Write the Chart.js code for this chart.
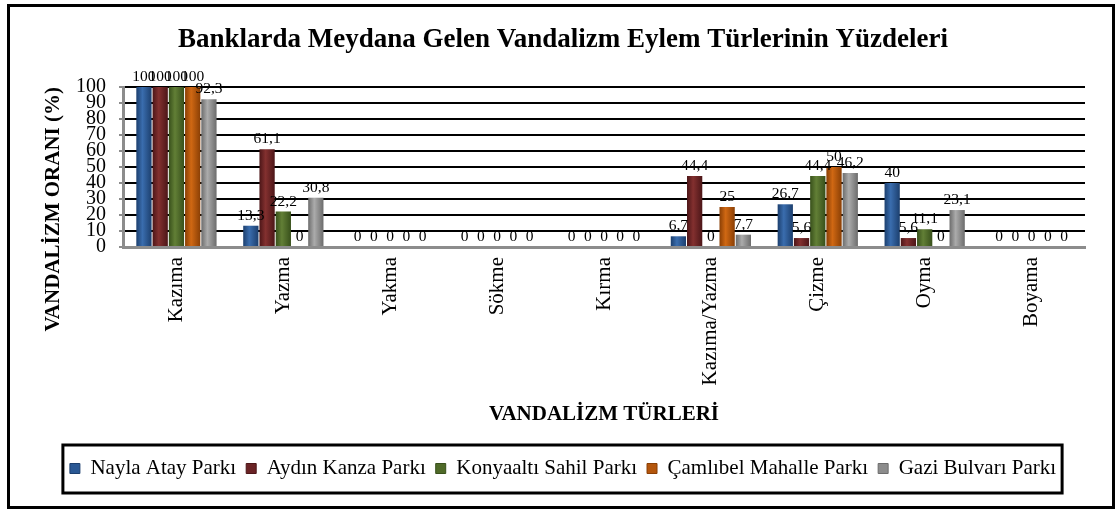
<!DOCTYPE html>
<html>
<head>
<meta charset="utf-8">
<script src="https://cdn.jsdelivr.net/npm/chart.js@4.4.1/dist/chart.umd.min.js"></script>
<style>
  html, body { margin: 0; padding: 0; background: #fff; }
  #wrap { position: relative; width: 1117px; height: 511px; }
  #frame { position: absolute; left: 7px; top: 4px; width: 1108px; height: 505px; border: 3px solid #000; box-sizing: border-box; pointer-events: none; }
  canvas { position: absolute; left: 0; top: 0; }
</style>
</head>
<body>
<div id="wrap">
  <canvas id="c" width="1117" height="511"></canvas>
  <div id="frame"></div>
</div>
<script>
// ---- data ----
const CATEGORIES = ['Kazıma', 'Yazma', 'Yakma', 'Sökme', 'Kırma', 'Kazıma/Yazma', 'Çizme', 'Oyma', 'Boyama'];
const SERIES = ['Nayla Atay Parkı', 'Aydın Kanza Parkı', 'Konyaaltı Sahil Parkı', 'Çamlıbel Mahalle Parkı', 'Gazi Bulvarı Parkı'];
const NAYLA = [100, 13.3, 0, 0, 0, 6.7, 26.7, 40, 0];
const AYDIN = [100, 61.1, 0, 0, 0, 44.4, 5.6, 5.6, 0];
const KONYAALTI = [100, 22.2, 0, 0, 0, 0, 44.4, 11.1, 0];
const CAMLIBEL = [100, 0, 0, 0, 0, 25, 50, 0, 0];
const GAZI = [92.3, 30.8, 0, 0, 0, 7.7, 46.2, 23.1, 0];
const Y_TICKS = [0, 10, 20, 30, 40, 50, 60, 70, 80, 90, 100];

const TITLE = 'Banklarda Meydana Gelen Vandalizm Eylem Türlerinin Yüzdeleri';
const X_TITLE = 'VANDALİZM TÜRLERİ';
const Y_TITLE = 'VANDALİZM ORANI (%)';

// ---- styles ----
const COLORS = [
  { base: '#2A5894', edge: '#1C3F6E', mid: '#3A6DAE' },
  { base: '#6A2325', edge: '#4C1618', mid: '#83302F' },
  { base: '#4F6A28', edge: '#38501B', mid: '#627F36' },
  { base: '#B4560C', edge: '#8A3F05', mid: '#D06813' },
  { base: '#8C8C8C', edge: '#6C6C6C', mid: '#ABABAB' }
];
const CAT_PCT = 0.76, BAR_PCT = 0.94;
const SERIF = '"Liberation Serif", "Times New Roman", serif';

function shade(c) {
  const col = COLORS[c.datasetIndex];
  if (c.type !== 'data') return col.base;
  const xs = c.chart.scales.x;
  if (!xs || !xs.width) return col.base;
  const catW = xs.width / CATEGORIES.length;
  const gw = catW * CAT_PCT, slot = gw / SERIES.length;
  const center = xs.getPixelForValue(c.dataIndex);
  const l = center - gw / 2 + c.datasetIndex * slot + slot * (1 - BAR_PCT) / 2;
  const r = l + slot * BAR_PCT;
  const g = c.chart.ctx.createLinearGradient(l, 0, r, 0);
  g.addColorStop(0, col.edge);
  g.addColorStop(0.4, col.mid);
  g.addColorStop(1, col.edge);
  return g;
}

const VALUES = [NAYLA, AYDIN, KONYAALTI, CAMLIBEL, GAZI];

const valueLabels = {
  id: 'valueLabels',
  afterDatasetsDraw(chart) {
    const ctx = chart.ctx;
    ctx.save();
    ctx.font = '15.5px ' + SERIF;
    ctx.fillStyle = '#000';
    ctx.textAlign = 'center';
    ctx.textBaseline = 'middle';
    chart.data.datasets.forEach((ds, di) => {
      const meta = chart.getDatasetMeta(di);
      meta.data.forEach((el, i) => {
        const v = ds.data[i];
        ctx.fillText(String(v).replace('.', ','), el.x, el.y - 10);
      });
    });
    ctx.restore();
  }
};

const legendBox = {
  id: 'legendBox',
  afterDraw(chart) {
    const lg = chart.legend;
    if (!lg || !lg.legendHitBoxes || !lg.legendHitBoxes.length) return;
    const hb = lg.legendHitBoxes;
    let l = Infinity, r = -Infinity;
    hb.forEach(h => { l = Math.min(l, h.left); r = Math.max(r, h.left + h.width); });
    const ctx = chart.ctx;
    ctx.save();
    ctx.strokeStyle = '#000';
    ctx.lineWidth = 3;
    ctx.strokeRect(l - 7, lg.top - 3, (r - l) + 13, lg.height + 7);
    ctx.restore();
  }
};

Chart.defaults.font.family = SERIF;
Chart.defaults.color = '#000';

new Chart(document.getElementById('c'), {
  type: 'bar',
  data: {
    labels: CATEGORIES,
    datasets: SERIES.map((name, i) => ({
      label: name,
      data: VALUES[i],
      backgroundColor: shade,
      borderWidth: 0,
      categoryPercentage: CAT_PCT,
      barPercentage: BAR_PCT
    }))
  },
  options: {
    responsive: false,
    animation: false,
    devicePixelRatio: 1,
    layout: { padding: { left: 41, right: 32, top: 0, bottom: 22 } },
    plugins: {
      title: {
        display: true,
        text: TITLE,
        font: { size: 27, weight: 'bold', family: SERIF, lineHeight: 1.2 },
        color: '#000',
        padding: { top: 24, bottom: 30.6 }
      },
      legend: {
        position: 'bottom',
        labels: {
          font: { size: 21, family: SERIF },
          color: '#000',
          boxWidth: 10,
          boxHeight: 10,
          padding: 10,
          generateLabels(chart) {
            return Chart.defaults.plugins.legend.labels.generateLabels(chart).map(it => Object.assign(it, {
              fillStyle: COLORS[it.datasetIndex].base,
              strokeStyle: COLORS[it.datasetIndex].edge,
              lineWidth: 1
            }));
          }
        }
      },
      tooltip: { enabled: false }
    },
    scales: {
      x: {
        afterFit(s) { s.height = 201; },
        grid: {
          offset: true,
          drawTicks: false,
          lineWidth: 2,
          color: c => (c.index === CATEGORIES.length ? '#000' : 'rgba(0,0,0,0)')
        },
        border: { display: true, color: '#8C8C8C', width: 3 },
        ticks: {
          autoSkip: false,
          minRotation: 90,
          maxRotation: 90,
          padding: 10,
          font: { size: 21, family: SERIF },
          color: '#000'
        },
        title: {
          display: true,
          text: X_TITLE,
          font: { size: 21, weight: 'bold', family: SERIF, lineHeight: 1.2 },
          color: '#000',
          padding: { top: 0, bottom: 20.5 }
        }
      },
      y: {
        min: 0,
        max: 100,
        afterFit(s) { s.width = 82; },
        afterBuildTicks(s) { s.ticks = Y_TICKS.map(v => ({ value: v })); },
        grid: {
          lineWidth: 2,
          tickLength: 4,
          tickColor: '#8C8C8C',
          color: c => (c.tick && c.tick.value === 0 ? 'rgba(0,0,0,0)' : '#000')
        },
        border: { display: true, color: '#8C8C8C', width: 3 },
        ticks: {
          stepSize: 10,
          autoSkip: false,
          padding: 13,
          font: { size: 20, family: SERIF, lineHeight: 0.8 },
          color: '#000'
        },
        title: {
          display: true,
          text: Y_TITLE,
          align: 'end',
          font: { size: 21, weight: 'bold', family: SERIF, lineHeight: 1.2 },
          color: '#000',
          padding: { top: 0, bottom: 0 }
        }
      }
    }
  },
  plugins: [valueLabels, legendBox]
});
</script>
</body>
</html>
